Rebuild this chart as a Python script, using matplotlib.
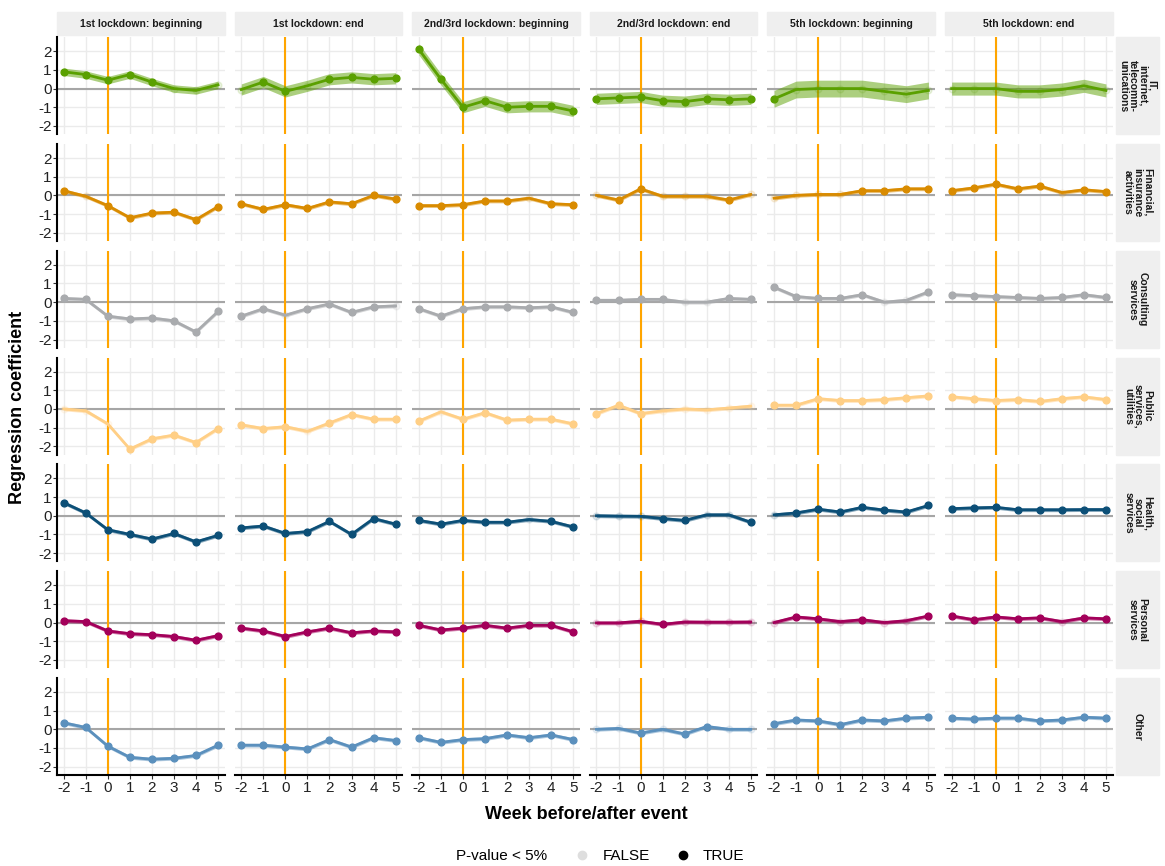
import matplotlib.pyplot as plt
import matplotlib.patches as mpatches
from matplotlib.lines import Line2D
import numpy as np

plt.rcParams["font.family"] = ["Liberation Sans", "DejaVu Sans"]
plt.rcParams["axes.unicode_minus"] = False

weeks = [-2, -1, 0, 1, 2, 3, 4, 5]
events = ["1st lockdown: beginning", "1st lockdown: end", "2nd/3rd lockdown: beginning",
          "2nd/3rd lockdown: end", "5th lockdown: beginning", "5th lockdown: end"]
sectors = ["IT,\ninternet,\ntelecomm-\nunications", "Financial,\ninsurance\nactivities",
           "Consulting\nservices", "Public\nservices,\nutilities", "Health,\nsocial\nservices",
           "Personal\nservices", "Other"]
colors = ["#5aa000", "#d98b00", "#a9abae", "#ffcf86", "#0c4f77", "#a3005a", "#5b90bd"]

coef = [
    [[0.9, 0.75, 0.45, 0.75, 0.35, 0.0, -0.1, 0.2],
     [-0.05, 0.35, -0.15, 0.15, 0.5, 0.6, 0.5, 0.55],
     [2.1, 0.5, -1.0, -0.65, -1.0, -0.95, -0.95, -1.2],
     [-0.55, -0.5, -0.45, -0.65, -0.7, -0.55, -0.6, -0.55],
     [-0.55, -0.05, 0.0, 0.0, 0.0, -0.15, -0.3, -0.1],
     [0.0, 0.0, 0.0, -0.15, -0.15, -0.05, 0.15, -0.1]],
    [[0.25, -0.05, -0.55, -1.2, -0.95, -0.9, -1.3, -0.6],
     [-0.45, -0.75, -0.5, -0.7, -0.35, -0.45, 0.0, -0.2],
     [-0.55, -0.55, -0.5, -0.3, -0.3, -0.15, -0.45, -0.5],
     [0.0, -0.25, 0.35, -0.05, -0.05, -0.05, -0.25, 0.05],
     [-0.15, 0.0, 0.05, 0.05, 0.25, 0.25, 0.35, 0.35],
     [0.25, 0.4, 0.6, 0.35, 0.5, 0.15, 0.3, 0.2]],
    [[0.2, 0.15, -0.75, -0.9, -0.85, -1.0, -1.6, -0.5],
     [-0.75, -0.35, -0.7, -0.35, -0.1, -0.55, -0.25, -0.2],
     [-0.35, -0.75, -0.35, -0.25, -0.25, -0.3, -0.25, -0.55],
     [0.1, 0.1, 0.15, 0.15, 0.0, 0.0, 0.2, 0.15],
     [0.8, 0.3, 0.2, 0.2, 0.4, 0.0, 0.1, 0.55],
     [0.4, 0.35, 0.3, 0.25, 0.2, 0.25, 0.4, 0.25]],
    [[0.0, -0.1, -0.8, -2.15, -1.6, -1.4, -1.8, -1.05],
     [-0.85, -1.05, -0.95, -1.2, -0.75, -0.3, -0.55, -0.55],
     [-0.65, -0.15, -0.55, -0.2, -0.6, -0.55, -0.55, -0.8],
     [-0.25, 0.2, -0.25, -0.1, 0.0, -0.05, 0.05, 0.15],
     [0.2, 0.2, 0.55, 0.45, 0.45, 0.5, 0.6, 0.7],
     [0.65, 0.55, 0.45, 0.5, 0.4, 0.55, 0.65, 0.5]],
    [[0.7, 0.15, -0.75, -1.0, -1.25, -0.95, -1.4, -1.05],
     [-0.65, -0.55, -0.95, -0.85, -0.3, -1.0, -0.15, -0.45],
     [-0.25, -0.45, -0.25, -0.35, -0.35, -0.2, -0.3, -0.6],
     [0.0, -0.02, -0.03, -0.15, -0.25, 0.05, 0.05, -0.35],
     [0.05, 0.15, 0.35, 0.2, 0.45, 0.3, 0.2, 0.55],
     [0.38, 0.42, 0.45, 0.32, 0.32, 0.32, 0.33, 0.33]],
    [[0.1, 0.05, -0.45, -0.6, -0.65, -0.75, -0.95, -0.7],
     [-0.3, -0.45, -0.75, -0.5, -0.3, -0.55, -0.45, -0.5],
     [-0.15, -0.4, -0.3, -0.15, -0.3, -0.15, -0.15, -0.5],
     [-0.02, -0.02, 0.07, -0.1, 0.03, 0.02, 0.02, 0.03],
     [0.0, 0.3, 0.2, 0.05, 0.15, 0.0, 0.1, 0.35],
     [0.35, 0.15, 0.3, 0.2, 0.25, 0.05, 0.25, 0.2]],
    [[0.35, 0.1, -0.9, -1.5, -1.6, -1.55, -1.4, -0.85],
     [-0.85, -0.85, -0.95, -1.05, -0.55, -0.95, -0.45, -0.6],
     [-0.45, -0.7, -0.55, -0.5, -0.3, -0.45, -0.3, -0.55],
     [0.0, 0.05, -0.2, 0.0, -0.25, 0.15, 0.0, 0.0],
     [0.3, 0.5, 0.45, 0.25, 0.5, 0.45, 0.6, 0.65],
     [0.6, 0.55, 0.6, 0.6, 0.45, 0.5, 0.65, 0.6]],
]
significant = [
    ["11111000", "01101111", "11111111", "11111111", "10000000", "00000000"],
    ["10111111", "11111111", "11111011", "01100010", "00001111", "11111011"],
    ["11111111", "11011110", "11111111", "11110011", "11111001", "11111111"],
    ["00011111", "11101111", "10111111", "11100000", "11111111", "11111111"],
    ["11111111", "11111111", "11111011", "00011001", "01111111", "11111111"],
    ["11111111", "11111111", "11111111", "00010000", "01101001", "11111011"],
    ["11111111", "11111111", "11111111", "00101100", "11111111", "11111111"],
]
ci_half = [[0.2, 0.3, 0.3, 0.3, 0.45, 0.35]] + [[0.1] * 6] * 6

fig = plt.figure(figsize=(11.65, 8.66), dpi=100)
gs = fig.add_gridspec(7, 6, left=0.049, right=0.955, top=0.957, bottom=0.105,
                      wspace=0.06, hspace=0.1)
x = np.array(weeks)
for r in range(7):
    for c in range(6):
        ax = fig.add_subplot(gs[r, c])
        y = np.array(coef[r][c])
        h = ci_half[r][c]
        ax.set_xlim(-2.3, 5.3)
        ax.set_ylim(-2.45, 2.75)
        ax.set_xticks(weeks)
        ax.set_yticks([-2, -1, 0, 1, 2])
        ax.grid(True, color="#ebebeb", lw=1)
        ax.set_axisbelow(True)
        for s in ax.spines.values():
            s.set_visible(False)
        ax.axhline(0, color="#a6a6a6", lw=1.5, zorder=1)
        ax.axvline(0, color="#ffa500", lw=1.5, zorder=1)
        ax.fill_between(x, y - h, y + h, color=colors[r], alpha=0.5, lw=0, zorder=2)
        ax.plot(x, y, color=colors[r], lw=2, zorder=3)
        sig = np.array([ch == "1" for ch in significant[r][c]])
        ax.scatter(x[sig], y[sig], color=colors[r], s=24, zorder=4)
        ax.scatter(x[~sig], y[~sig], color=colors[r], s=24, alpha=0.12, zorder=4)
        ax.tick_params(length=3, color="#333333", labelsize=11, pad=1, labelcolor="#222222")
        if c == 0:
            ax.spines["left"].set_visible(True)
            ax.spines["left"].set_linewidth(1.5)
        else:
            ax.tick_params(axis="y", left=False, labelleft=False)
        if r == 6:
            ax.spines["bottom"].set_visible(True)
            ax.spines["bottom"].set_linewidth(1.5)
        else:
            ax.tick_params(axis="x", bottom=False, labelbottom=False)
        if r == 0:
            ax.add_patch(mpatches.Rectangle((0, 1.02), 1, 0.24, transform=ax.transAxes,
                                            color="#efefef", clip_on=False))
            ax.text(0.5, 1.14, events[c], transform=ax.transAxes, ha="center", va="center",
                    fontsize=7.5, weight="bold", color="#1a1a1a")
        if c == 5:
            ax.add_patch(mpatches.Rectangle((1.02, 0), 0.26, 1, transform=ax.transAxes,
                                            color="#efefef", clip_on=False))
            ax.text(1.15, 0.5, sectors[r], transform=ax.transAxes, ha="center", va="center",
                    rotation=-90, fontsize=7.5, weight="bold", color="#1a1a1a", linespacing=0.95)

fig.text(0.015, 0.53, "Regression coefficient", rotation=90, ha="center", va="center",
         fontsize=13, weight="bold")
fig.text(0.503, 0.059, "Week before/after event", ha="center", va="center",
         fontsize=13, weight="bold")
fig.text(0.47, 0.011, "P-value < 5%", ha="right", va="center", fontsize=11)
handles = [Line2D([], [], marker="o", ls="", color="#dedede", label="FALSE"),
           Line2D([], [], marker="o", ls="", color="black", label="TRUE")]
fig.legend(handles=handles, loc="center left", bbox_to_anchor=(0.475, 0.011), ncol=2,
           frameon=False, fontsize=11, handletextpad=0.3, columnspacing=1.2)
fig.savefig("out.png", dpi=100)
